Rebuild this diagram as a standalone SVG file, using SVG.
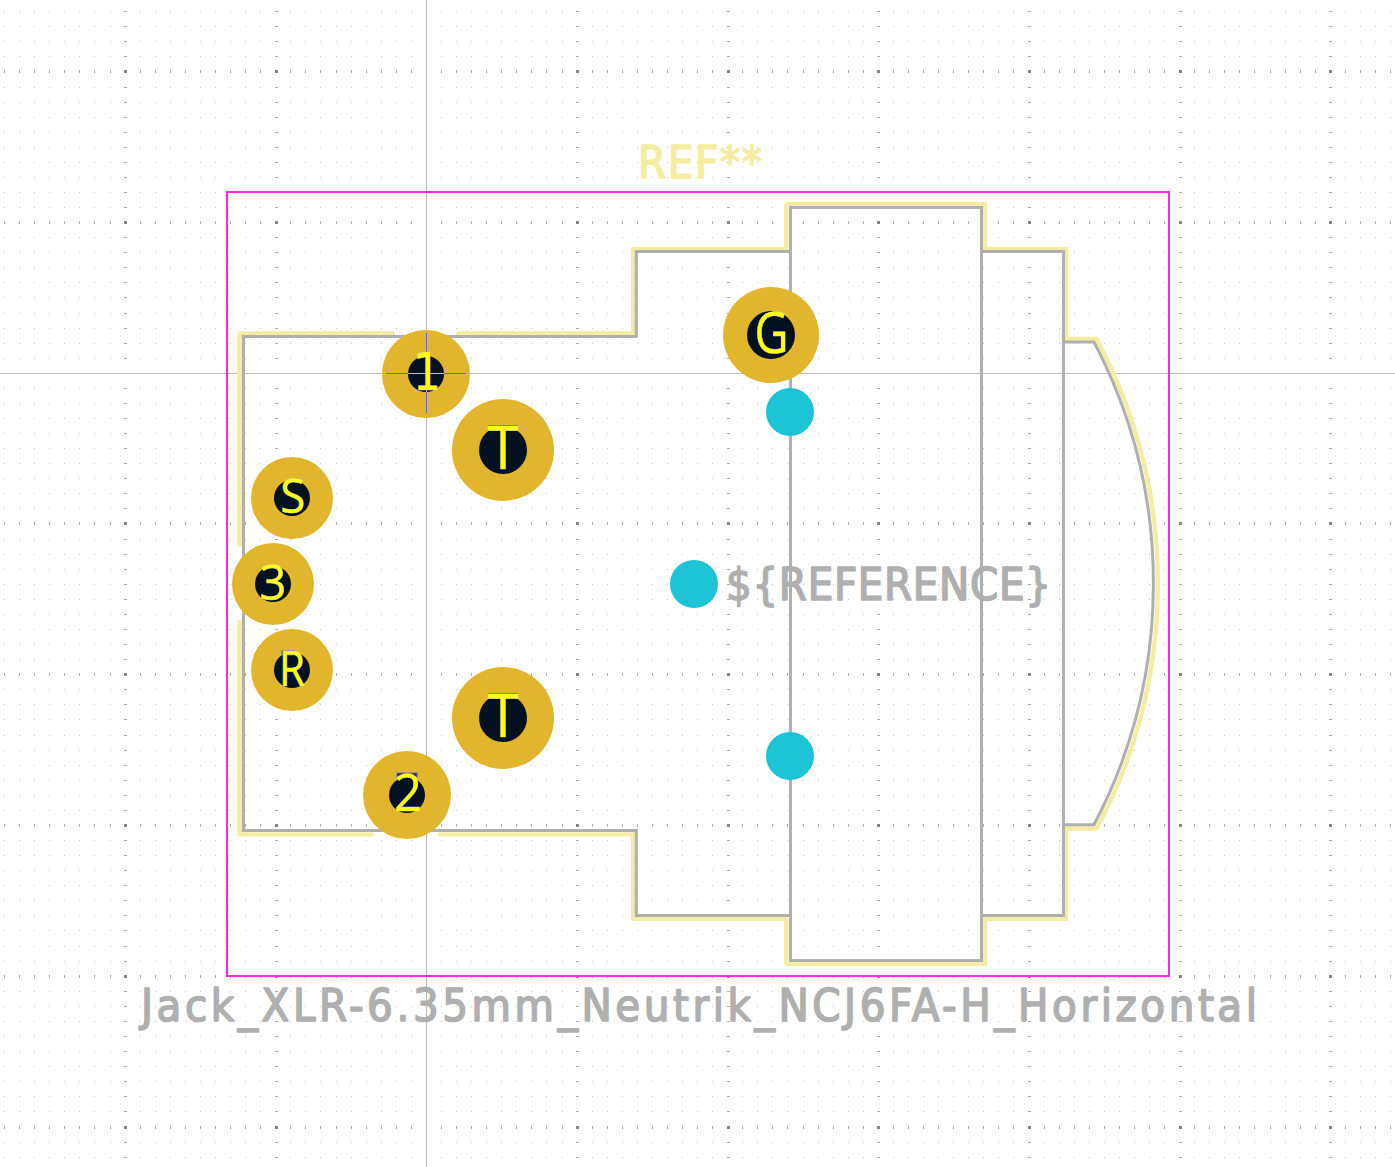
<svg xmlns="http://www.w3.org/2000/svg" width="1395" height="1167" viewBox="0 0 1395 1167">
<style>
.grid{fill:none;shape-rendering:crispEdges}
.minor{stroke:#c4c4ca;stroke-width:1;stroke-dasharray:1 14.065}
.mcol{stroke:#a9a9b0;stroke-width:1;stroke-dasharray:3 147.65;stroke-dashoffset:30.55}
.mrow{stroke:#a9a9b0;stroke-width:3;stroke-dasharray:1 14.065}
.mx{stroke:#858585;stroke-width:3;stroke-dasharray:3 147.65;stroke-dashoffset:30.55}
.cross{stroke:#bdbdbd;stroke-width:1;fill:none}
.silk{fill:none;stroke:#f2eda1;stroke-width:4.4;stroke-linecap:round;stroke-linejoin:round}
.fab{fill:none;stroke:#afafaf;stroke-width:3;stroke-linejoin:miter}
.court{fill:none;stroke:#ff26e2;stroke-width:2}
.pad{fill:#e2b62c}
.hole{fill:#021122}
.npth{fill:#1cc4d6}
.cap{fill:#33293a;stroke:#6a5fd8;stroke-width:1}
.num{font-family:"Open Sans",sans-serif;fill:#ffff12;stroke:#c8c8d4;stroke-width:.6;paint-order:stroke;text-anchor:middle}
.lab{font-family:"DejaVu Sans Condensed","DejaVu Sans",sans-serif;font-size:45px;stroke-width:1.6;stroke-linejoin:round}
.g{fill:#afafaf;stroke:#afafaf}
.y{fill:#f2eda1;stroke:#f2eda1}
</style>
<defs>
<path id="allrows" d="M4.1 11.5H1395M4.1 26.5H1395M4.1 41.5H1395M4.1 56.5H1395M4.1 71.5H1395M4.1 87.5H1395M4.1 102.5H1395M4.1 117.5H1395M4.1 132.5H1395M4.1 147.5H1395M4.1 162.5H1395M4.1 177.5H1395M4.1 192.5H1395M4.1 207.5H1395M4.1 222.5H1395M4.1 237.5H1395M4.1 252.5H1395M4.1 267.5H1395M4.1 282.5H1395M4.1 297.5H1395M4.1 313.5H1395M4.1 328.5H1395M4.1 343.5H1395M4.1 358.5H1395M4.1 388.5H1395M4.1 403.5H1395M4.1 418.5H1395M4.1 433.5H1395M4.1 448.5H1395M4.1 463.5H1395M4.1 478.5H1395M4.1 493.5H1395M4.1 508.5H1395M4.1 523.5H1395M4.1 539.5H1395M4.1 554.5H1395M4.1 569.5H1395M4.1 584.5H1395M4.1 599.5H1395M4.1 614.5H1395M4.1 629.5H1395M4.1 644.5H1395M4.1 659.5H1395M4.1 674.5H1395M4.1 689.5H1395M4.1 704.5H1395M4.1 719.5H1395M4.1 735.5H1395M4.1 750.5H1395M4.1 765.5H1395M4.1 780.5H1395M4.1 795.5H1395M4.1 810.5H1395M4.1 825.5H1395M4.1 840.5H1395M4.1 855.5H1395M4.1 870.5H1395M4.1 885.5H1395M4.1 900.5H1395M4.1 915.5H1395M4.1 930.5H1395M4.1 946.5H1395M4.1 961.5H1395M4.1 976.5H1395M4.1 991.5H1395M4.1 1006.5H1395M4.1 1021.5H1395M4.1 1036.5H1395M4.1 1051.5H1395M4.1 1066.5H1395M4.1 1081.5H1395M4.1 1096.5H1395M4.1 1111.5H1395M4.1 1127.5H1395M4.1 1142.5H1395M4.1 1157.5H1395"/>
<path id="majorrows" d="M4.1 71.5H1395M4.1 222.5H1395M4.1 523.5H1395M4.1 674.5H1395M4.1 825.5H1395M4.1 976.5H1395M4.1 1127.5H1395"/>
</defs>
<rect width="1395" height="1167" fill="#ffffff"/>
<g id="grid" class="grid">
<use href="#allrows" class="minor"/>
<use href="#allrows" class="mcol"/>
<use href="#majorrows" class="mrow"/>
<use href="#majorrows" class="mx"/>
</g>
<rect x="424" y="0" width="5" height="1167" fill="#ffffff"/>
<g id="crosshair" class="cross">
<path d="M426.5 0V1167M0 373.5H1395"/>
</g>
<g id="silkscreen" class="silk">
<path d="M393 333.4H239.7V545"/>
<path d="M239.7 622V834.4H372"/>
<path d="M440 834.4H633.2V918.7H786.3V964H985V918.7H1066.2V828.5H1096.7A520 520 0 0 0 1096.7 339H1066.2V249H985V204.2H786.3V249H633.2V333.4H458"/>
</g>
<g id="fabrication" class="fab">
<path d="M243.5 336.4H636.3V251.6H790.5V207.5H981.5V251.6H1063.5V342H1094A520 520 0 0 1 1094 824.7H1063.5V915.5H981.5V960.5H790.5V915.5H636.3V830.6H243.5Z"/>
<path d="M790.5 207.5V960.5M981.5 207.5V960.5M1063.5 342V824.7"/>
</g>
<rect id="courtyard" class="court" x="227" y="192" width="942" height="784"/>
<text id="ref-silk" class="lab y" x="638" y="177.5" textLength="124">REF**</text>
<text id="ref-fab" class="lab g" x="726" y="600" textLength="325">${REFERENCE}</text>
<text id="value" class="lab g" x="141" y="1021" textLength="1116">Jack_XLR-6.35mm_Neutrik_NCJ6FA-H_Horizontal</text>
<g id="npth-1"><circle class="npth" cx="790" cy="412" r="24"/></g>
<g id="npth-2"><circle class="npth" cx="694" cy="584" r="24"/></g>
<g id="npth-3"><circle class="npth" cx="790" cy="756" r="24"/></g>
<g id="pad-1">
<circle class="pad" cx="426" cy="374" r="44"/>
<circle class="hole" cx="426" cy="374" r="18"/>
<path d="M386 373.5H466M426.5 333V413" fill="none" stroke="#6a5fd8"/>
<path d="M408 373.5H444M426.5 356V392" fill="none" stroke="#bdbdbd"/>
<text class="num" x="427" y="390" font-size="51" textLength="28" lengthAdjust="spacingAndGlyphs" style="font-family:'DejaVu Sans',sans-serif">1</text>
</g>
<g id="pad-T1">
<circle class="pad" cx="503" cy="450" r="51"/>
<circle class="hole" cx="503" cy="450" r="24"/>
<rect class="cap" x="488.5" y="425.5" width="29" height="5"/>
<text class="num" x="503" y="469" font-size="60" textLength="31" lengthAdjust="spacingAndGlyphs">T</text>
</g>
<g id="pad-S">
<circle class="pad" cx="292" cy="498" r="41"/>
<circle class="hole" cx="292" cy="498" r="18"/>
<text class="num" x="292.7" y="512.5" font-size="47" textLength="25" lengthAdjust="spacingAndGlyphs">S</text>
</g>
<g id="pad-3">
<circle class="pad" cx="273" cy="584" r="41"/>
<circle class="hole" cx="273" cy="584" r="18"/>
<text class="num" x="273" y="600" font-size="50" textLength="27" lengthAdjust="spacingAndGlyphs">3</text>
</g>
<g id="pad-R">
<circle class="pad" cx="292" cy="670" r="41"/>
<circle class="hole" cx="292" cy="670" r="18"/>
<rect class="cap" x="282" y="651" width="12" height="4"/>
<text class="num" x="292" y="686" font-size="49" textLength="26" lengthAdjust="spacingAndGlyphs">R</text>
</g>
<g id="pad-T2">
<circle class="pad" cx="503" cy="718" r="51"/>
<circle class="hole" cx="503" cy="718" r="24"/>
<rect class="cap" x="488.5" y="693.5" width="29" height="5"/>
<text class="num" x="503" y="737" font-size="60" textLength="31" lengthAdjust="spacingAndGlyphs">T</text>
</g>
<g id="pad-2">
<circle class="pad" cx="407" cy="795" r="44"/>
<circle class="hole" cx="407" cy="795" r="18"/>
<rect class="cap" x="397" y="773" width="20" height="4"/>
<text class="num" x="408" y="810.5" font-size="52" textLength="28" lengthAdjust="spacingAndGlyphs">2</text>
</g>
<g id="pad-G">
<circle class="pad" cx="771" cy="335" r="48"/>
<circle class="hole" cx="771" cy="335" r="24"/>
<text class="num" x="771.5" y="353" font-size="57" textLength="34" lengthAdjust="spacingAndGlyphs">G</text>
</g>
</svg>
